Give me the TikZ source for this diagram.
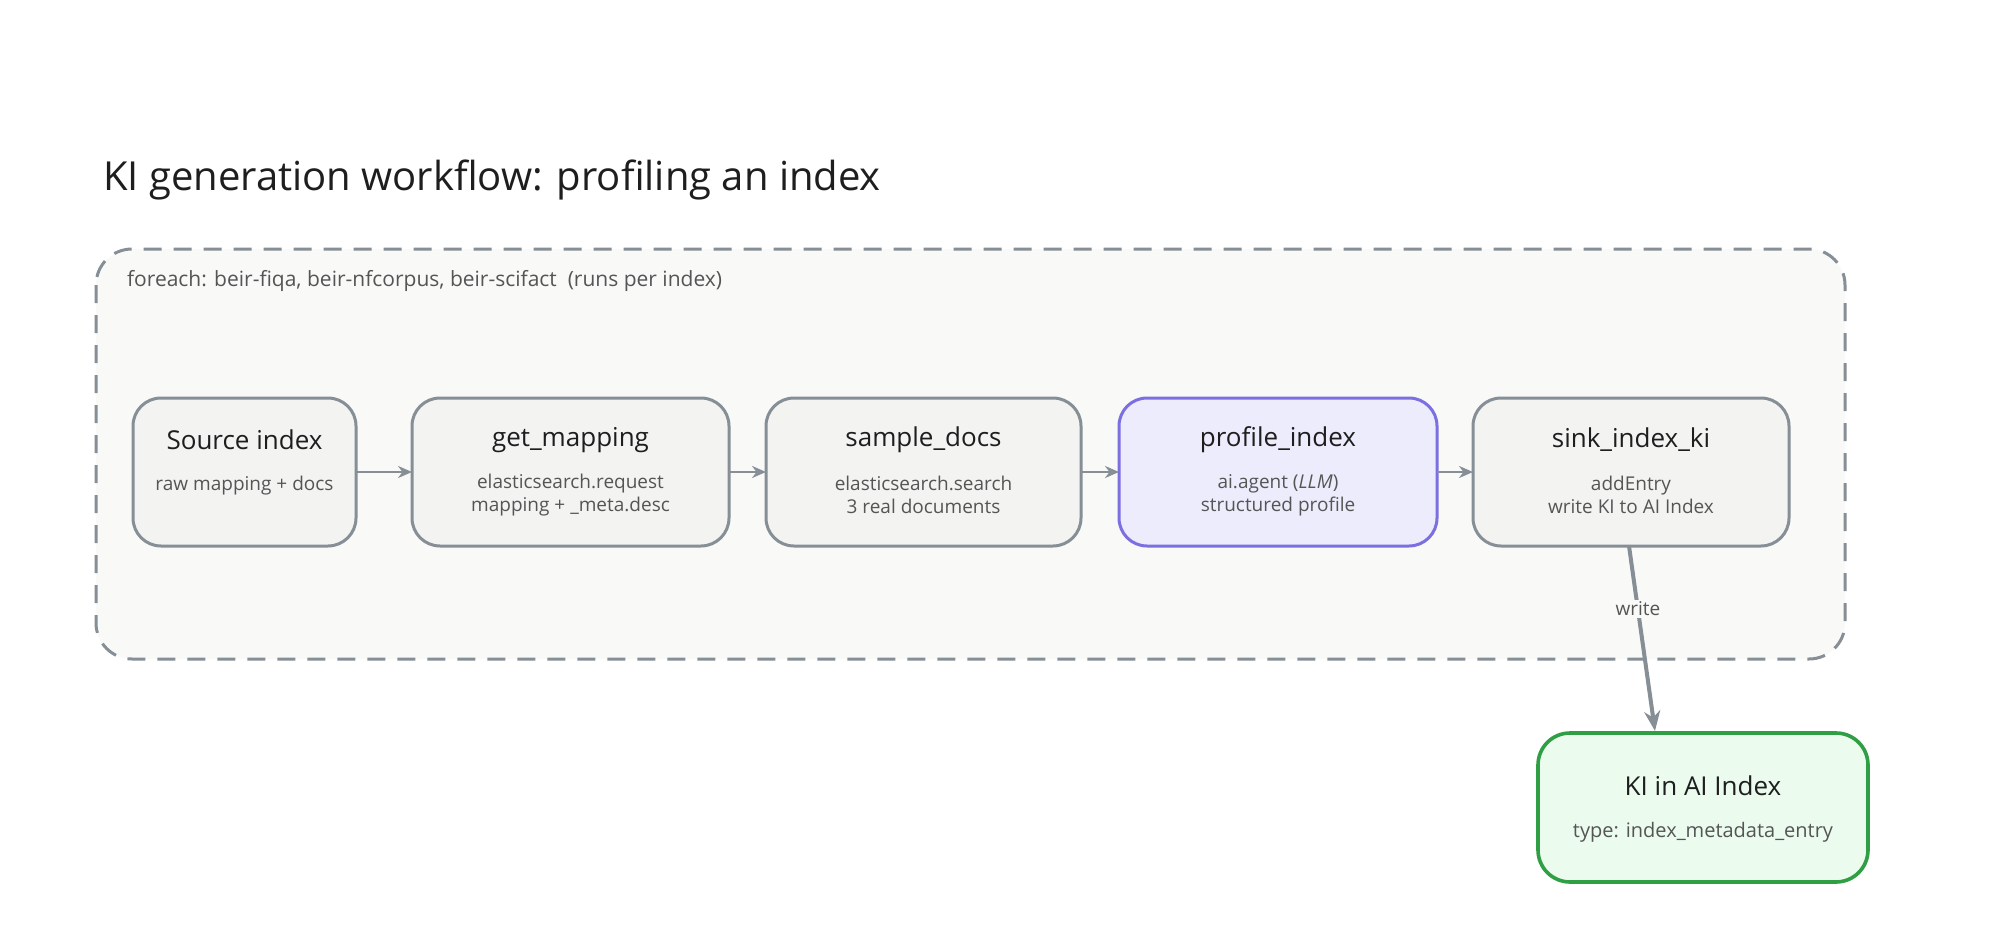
\documentclass[tikz,border=0pt]{standalone}
\usepackage{fontspec}
\setmainfont{Open Sans}
\usetikzlibrary{arrows.meta}
\definecolor{bx}{HTML}{868E96}
\definecolor{bxf}{HTML}{F3F3F2}
\definecolor{pf}{HTML}{7C6FE0}
\definecolor{pff}{HTML}{ECECFC}
\definecolor{gk}{HTML}{2F9E44}
\definecolor{gkf}{HTML}{EBFBEE}
\definecolor{tx}{HTML}{1E1E1E}
\definecolor{sub}{HTML}{555555}
\begin{document}
\begin{tikzpicture}[x=0.5pt,y=-0.5pt,
  box/.style={draw=bx,fill=bxf,line width=1.5pt,rounded corners=14pt},
  ttl/.style={font=\fontsize{13}{15}\selectfont,text=tx},
  st/.style={font=\fontsize{9.5}{11.5}\selectfont,text=sub,align=center},
  arr/.style={draw=bx,line width=1.3pt,-{Stealth[length=7pt,width=6pt]}}]
\useasboundingbox (0,0) rectangle (1999,947);
\node[anchor=base west,font=\fontsize{20}{24}\selectfont,text=tx] (title) at (96,191) {KI generation workflow: profiling an index};
\draw[draw=bx,fill=bxf!50,line width=1.5pt,dash pattern=on 9pt off 6pt,rounded corners=18pt] (96,249) rectangle (1845,659);
\node[anchor=west,font=\fontsize{10.5}{12}\selectfont,text=sub] (lbl) at (120,281) {foreach: beir-fiqa, beir-nfcorpus, beir-scifact \ (runs per index)};
\newcommand\mybox[8]{%
  \draw[box,#8] (#2,398) rectangle (#3,546);
  \coordinate (#1) at ({(#2+#3)/2},472);
  \node[ttl] at ({(#2+#3)/2},440) {#4};
  \node[st] at ({(#2+#3)/2},495) {#5\\#6};
  \coordinate (#1w) at (#2,472); \coordinate (#1e) at (#3,472);}
\mybox{src}{133}{356}{Source index}{raw mapping + docs}{}{}{}
\mybox{gm}{412}{729}{get\_mapping}{elasticsearch.request}{mapping + \_meta.desc}{}{}
\mybox{sd}{766}{1081}{sample\_docs}{elasticsearch.search}{3 real documents}{}{}
\mybox{pi}{1119}{1437}{profile\_index}{ai.agent (\textit{LLM})}{structured profile}{}{draw=pf,fill=pff}
\mybox{sk}{1473}{1789}{sink\_index\_ki}{addEntry}{write KI to AI Index}{}{}
\draw[draw=gk,fill=gkf,line width=1.8pt,rounded corners=16pt] (1538,733) rectangle (1868,882);
\node[ttl] (ki) at (1703,786) {KI in AI Index};
\node[st,font=\fontsize{10}{12}\selectfont] (kis) at (1703,832) {type: index\_metadata\_entry};
\draw[arr] (srce) -- (gmw);
\draw[arr] (gme) -- (sdw);
\draw[arr] (sde) -- (piw);
\draw[arr] (pie) -- (skw);
\coordinate (wa) at (1629,546);
\coordinate (wb) at (1655,731);
\draw[arr,line width=2pt,-{Stealth[length=10pt,width=8pt]}] (wa) -- node[pos=0.34,fill=bxf!50,inner sep=1pt,font=\fontsize{9.5}{11}\selectfont,text=sub] (wl) {write} (wb);
\end{tikzpicture}
\end{document}
